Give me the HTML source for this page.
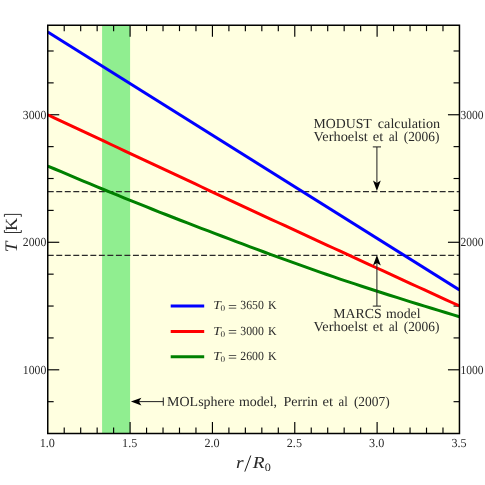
<!DOCTYPE html><html><head><meta charset="utf-8"><style>html,body{margin:0;padding:0;background:#fff}svg{display:block;will-change:transform}text{font-family:"Liberation Serif",serif;fill:#2a2a2a;text-rendering:geometricPrecision}</style></head><body>
<svg width="485" height="485" viewBox="0 0 485 485">
<rect width="485" height="485" fill="#fff"/>
<rect x="47.75" y="25.25" width="411.7" height="408.25" fill="#ffffe0"/>
<rect x="102.09" y="25.25" width="28.00" height="408.25" fill="#90ee90"/>
<line x1="47.75" x2="459.45" y1="191.5" y2="191.5" stroke="#2a2a2a" stroke-width="1.25" stroke-dasharray="5.95 2.57"/>
<line x1="47.75" x2="459.45" y1="255.45" y2="255.45" stroke="#2a2a2a" stroke-width="1.25" stroke-dasharray="5.95 2.57"/>
<g stroke="#000" stroke-width="1.15">
<line x1="64.22" x2="64.22" y1="433.5" y2="427.6"/>
<line x1="64.22" x2="64.22" y1="25.25" y2="31.15"/>
<line x1="80.69" x2="80.69" y1="433.5" y2="427.6"/>
<line x1="80.69" x2="80.69" y1="25.25" y2="31.15"/>
<line x1="97.15" x2="97.15" y1="433.5" y2="427.6"/>
<line x1="97.15" x2="97.15" y1="25.25" y2="31.15"/>
<line x1="113.62" x2="113.62" y1="433.5" y2="427.6"/>
<line x1="113.62" x2="113.62" y1="25.25" y2="31.15"/>
<line x1="130.09" x2="130.09" y1="433.5" y2="422.0"/>
<line x1="130.09" x2="130.09" y1="25.25" y2="36.75"/>
<line x1="146.56" x2="146.56" y1="433.5" y2="427.6"/>
<line x1="146.56" x2="146.56" y1="25.25" y2="31.15"/>
<line x1="163.03" x2="163.03" y1="433.5" y2="427.6"/>
<line x1="163.03" x2="163.03" y1="25.25" y2="31.15"/>
<line x1="179.49" x2="179.49" y1="433.5" y2="427.6"/>
<line x1="179.49" x2="179.49" y1="25.25" y2="31.15"/>
<line x1="195.96" x2="195.96" y1="433.5" y2="427.6"/>
<line x1="195.96" x2="195.96" y1="25.25" y2="31.15"/>
<line x1="212.43" x2="212.43" y1="433.5" y2="422.0"/>
<line x1="212.43" x2="212.43" y1="25.25" y2="36.75"/>
<line x1="228.90" x2="228.90" y1="433.5" y2="427.6"/>
<line x1="228.90" x2="228.90" y1="25.25" y2="31.15"/>
<line x1="245.37" x2="245.37" y1="433.5" y2="427.6"/>
<line x1="245.37" x2="245.37" y1="25.25" y2="31.15"/>
<line x1="261.83" x2="261.83" y1="433.5" y2="427.6"/>
<line x1="261.83" x2="261.83" y1="25.25" y2="31.15"/>
<line x1="278.30" x2="278.30" y1="433.5" y2="427.6"/>
<line x1="278.30" x2="278.30" y1="25.25" y2="31.15"/>
<line x1="294.77" x2="294.77" y1="433.5" y2="422.0"/>
<line x1="294.77" x2="294.77" y1="25.25" y2="36.75"/>
<line x1="311.24" x2="311.24" y1="433.5" y2="427.6"/>
<line x1="311.24" x2="311.24" y1="25.25" y2="31.15"/>
<line x1="327.71" x2="327.71" y1="433.5" y2="427.6"/>
<line x1="327.71" x2="327.71" y1="25.25" y2="31.15"/>
<line x1="344.17" x2="344.17" y1="433.5" y2="427.6"/>
<line x1="344.17" x2="344.17" y1="25.25" y2="31.15"/>
<line x1="360.64" x2="360.64" y1="433.5" y2="427.6"/>
<line x1="360.64" x2="360.64" y1="25.25" y2="31.15"/>
<line x1="377.11" x2="377.11" y1="433.5" y2="422.0"/>
<line x1="377.11" x2="377.11" y1="25.25" y2="36.75"/>
<line x1="393.58" x2="393.58" y1="433.5" y2="427.6"/>
<line x1="393.58" x2="393.58" y1="25.25" y2="31.15"/>
<line x1="410.05" x2="410.05" y1="433.5" y2="427.6"/>
<line x1="410.05" x2="410.05" y1="25.25" y2="31.15"/>
<line x1="426.51" x2="426.51" y1="433.5" y2="427.6"/>
<line x1="426.51" x2="426.51" y1="25.25" y2="31.15"/>
<line x1="442.98" x2="442.98" y1="433.5" y2="427.6"/>
<line x1="442.98" x2="442.98" y1="25.25" y2="31.15"/>
<line x1="47.75" x2="53.65" y1="401.68" y2="401.68"/>
<line x1="459.45" x2="453.55" y1="401.68" y2="401.68"/>
<line x1="47.75" x2="59.25" y1="369.80" y2="369.80"/>
<line x1="459.45" x2="447.95" y1="369.80" y2="369.80"/>
<line x1="47.75" x2="53.65" y1="337.92" y2="337.92"/>
<line x1="459.45" x2="453.55" y1="337.92" y2="337.92"/>
<line x1="47.75" x2="53.65" y1="306.04" y2="306.04"/>
<line x1="459.45" x2="453.55" y1="306.04" y2="306.04"/>
<line x1="47.75" x2="53.65" y1="274.16" y2="274.16"/>
<line x1="459.45" x2="453.55" y1="274.16" y2="274.16"/>
<line x1="47.75" x2="59.25" y1="242.28" y2="242.28"/>
<line x1="459.45" x2="447.95" y1="242.28" y2="242.28"/>
<line x1="47.75" x2="53.65" y1="210.39" y2="210.39"/>
<line x1="459.45" x2="453.55" y1="210.39" y2="210.39"/>
<line x1="47.75" x2="53.65" y1="178.51" y2="178.51"/>
<line x1="459.45" x2="453.55" y1="178.51" y2="178.51"/>
<line x1="47.75" x2="53.65" y1="146.63" y2="146.63"/>
<line x1="459.45" x2="453.55" y1="146.63" y2="146.63"/>
<line x1="47.75" x2="59.25" y1="114.75" y2="114.75"/>
<line x1="459.45" x2="447.95" y1="114.75" y2="114.75"/>
<line x1="47.75" x2="53.65" y1="82.87" y2="82.87"/>
<line x1="459.45" x2="453.55" y1="82.87" y2="82.87"/>
<line x1="47.75" x2="53.65" y1="50.99" y2="50.99"/>
<line x1="459.45" x2="453.55" y1="50.99" y2="50.99"/>
</g>
<clipPath id="c"><rect x="47.75" y="25.25" width="411.7" height="408.25"/></clipPath><g clip-path="url(#c)" fill="none" stroke-width="3.0" stroke-linecap="butt">
<path d="M47.75,31.9 L459.45,290.0" stroke="#0000ff"/>
<path d="M47.75,114.76 L54.73,118.04 L61.71,121.32 L68.68,124.59 L75.66,127.87 L82.64,131.15 L89.62,134.42 L96.60,137.70 L103.57,140.97 L110.55,144.24 L117.53,147.51 L124.51,150.77 L131.49,154.04 L138.46,157.30 L145.44,160.57 L152.42,163.84 L159.40,167.11 L166.38,170.39 L173.35,173.66 L180.33,176.94 L187.31,180.21 L194.29,183.48 L201.27,186.75 L208.24,190.02 L215.22,193.29 L222.20,196.56 L229.18,199.83 L236.16,203.10 L243.13,206.36 L250.11,209.63 L257.09,212.85 L264.07,216.07 L271.04,219.29 L278.02,222.51 L285.00,225.73 L291.98,228.95 L298.96,232.17 L305.93,235.38 L312.91,238.60 L319.89,241.82 L326.87,245.03 L333.85,248.24 L340.82,251.46 L347.80,254.67 L354.78,257.88 L361.76,261.09 L368.74,264.30 L375.71,267.51 L382.69,270.71 L389.67,273.92 L396.65,277.12 L403.63,280.33 L410.60,283.53 L417.58,286.74 L424.56,289.94 L431.54,293.14 L438.52,296.34 L445.49,299.54 L452.47,302.74 L459.45,305.94" stroke="#ff0000"/>
<path d="M47.75,166.01 L54.73,169.00 L61.71,171.97 L68.68,174.93 L75.66,177.87 L82.64,180.80 L89.62,183.71 L96.60,186.61 L103.57,189.50 L110.55,192.36 L117.53,195.22 L124.51,198.06 L131.49,200.88 L138.46,203.69 L145.44,206.48 L152.42,209.26 L159.40,212.03 L166.38,214.77 L173.35,217.51 L180.33,220.23 L187.31,222.93 L194.29,225.62 L201.27,228.30 L208.24,230.96 L215.22,233.62 L222.20,236.27 L229.18,238.92 L236.16,241.55 L243.13,244.18 L250.11,246.80 L257.09,249.40 L264.07,251.98 L271.04,254.56 L278.02,257.12 L285.00,259.66 L291.98,262.19 L298.96,264.70 L305.93,267.20 L312.91,269.68 L319.89,272.12 L326.87,274.54 L333.85,276.94 L340.82,279.30 L347.80,281.63 L354.78,283.94 L361.76,286.23 L368.74,288.50 L375.71,290.75 L382.69,292.99 L389.67,295.22 L396.65,297.44 L403.63,299.64 L410.60,301.82 L417.58,303.99 L424.56,306.15 L431.54,308.29 L438.52,310.41 L445.49,312.53 L452.47,314.63 L459.45,316.73" stroke="#008000"/>
</g>
<rect x="47.75" y="25.25" width="411.7" height="408.25" fill="none" stroke="#000" stroke-width="1.5"/>
<text x="47.35" y="446.8" font-size="12.3" text-anchor="middle" textLength="15.2" lengthAdjust="spacingAndGlyphs">1.0</text>
<text x="129.69" y="446.8" font-size="12.3" text-anchor="middle" textLength="15.2" lengthAdjust="spacingAndGlyphs">1.5</text>
<text x="212.03" y="446.8" font-size="12.3" text-anchor="middle" textLength="15.2" lengthAdjust="spacingAndGlyphs">2.0</text>
<text x="294.37" y="446.8" font-size="12.3" text-anchor="middle" textLength="15.2" lengthAdjust="spacingAndGlyphs">2.5</text>
<text x="376.71" y="446.8" font-size="12.3" text-anchor="middle" textLength="15.2" lengthAdjust="spacingAndGlyphs">3.0</text>
<text x="459.05" y="446.8" font-size="12.3" text-anchor="middle" textLength="15.2" lengthAdjust="spacingAndGlyphs">3.5</text>
<text x="22.8" y="373.80" font-size="12.3" textLength="23.5" lengthAdjust="spacingAndGlyphs">1000</text>
<text x="460.6" y="373.80" font-size="12.3" textLength="23.0" lengthAdjust="spacingAndGlyphs">1000</text>
<text x="22.8" y="246.28" font-size="12.3" textLength="23.5" lengthAdjust="spacingAndGlyphs">2000</text>
<text x="460.6" y="246.28" font-size="12.3" textLength="23.0" lengthAdjust="spacingAndGlyphs">2000</text>
<text x="22.8" y="118.75" font-size="12.3" textLength="23.5" lengthAdjust="spacingAndGlyphs">3000</text>
<text x="460.6" y="118.75" font-size="12.3" textLength="23.0" lengthAdjust="spacingAndGlyphs">3000</text>
<text transform="translate(17.0,252.2) rotate(-90)" font-size="17.6" font-style="italic" textLength="10.6" lengthAdjust="spacingAndGlyphs">T</text>
<text transform="translate(17.0,230.9) rotate(-90)" font-size="17" textLength="13.1" lengthAdjust="spacingAndGlyphs">K</text>
<path d="M4.4,230.1 V232.5 H21.3 V230.1 M4.4,216.8 V214.4 H21.3 V216.8" fill="none" stroke="#1a1a1a" stroke-width="0.9"/>
<text x="236" y="468" font-size="16.8" font-style="italic" textLength="7.6" lengthAdjust="spacingAndGlyphs">r</text>
<line x1="244.8" y1="471.6" x2="250.8" y2="455.5" stroke="#1a1a1a" stroke-width="1"/>
<text x="252.8" y="468" font-size="16.8" font-style="italic" textLength="11.8" lengthAdjust="spacingAndGlyphs">R</text>
<text x="264.7" y="470.5" font-size="11.4" textLength="6.1" lengthAdjust="spacingAndGlyphs">0</text>
<line x1="170.7" x2="204.2" y1="306.1" y2="306.1" stroke="#0000ff" stroke-width="3.0"/>
<text x="213.2" y="309.4" font-size="12.4" font-style="italic" textLength="7.6" lengthAdjust="spacingAndGlyphs">T</text>
<text x="220.6" y="311.3" font-size="8.8" textLength="4.6" lengthAdjust="spacingAndGlyphs">0</text>
<text x="228.0" y="310.7" font-size="12.4" textLength="9.0" lengthAdjust="spacingAndGlyphs">=</text>
<text x="240.3" y="309.4" font-size="12.4" textLength="23.6" lengthAdjust="spacingAndGlyphs">3650</text>
<text x="268.0" y="309.4" font-size="12.4" textLength="8.6" lengthAdjust="spacingAndGlyphs">K</text>
<line x1="170.7" x2="204.2" y1="331.4" y2="331.4" stroke="#ff0000" stroke-width="3.0"/>
<text x="213.2" y="334.7" font-size="12.4" font-style="italic" textLength="7.6" lengthAdjust="spacingAndGlyphs">T</text>
<text x="220.6" y="336.6" font-size="8.8" textLength="4.6" lengthAdjust="spacingAndGlyphs">0</text>
<text x="228.0" y="336.0" font-size="12.4" textLength="9.0" lengthAdjust="spacingAndGlyphs">=</text>
<text x="240.3" y="334.7" font-size="12.4" textLength="23.6" lengthAdjust="spacingAndGlyphs">3000</text>
<text x="268.0" y="334.7" font-size="12.4" textLength="8.6" lengthAdjust="spacingAndGlyphs">K</text>
<line x1="170.7" x2="204.2" y1="356.8" y2="356.8" stroke="#008000" stroke-width="3.0"/>
<text x="213.2" y="360.1" font-size="12.4" font-style="italic" textLength="7.6" lengthAdjust="spacingAndGlyphs">T</text>
<text x="220.6" y="362.0" font-size="8.8" textLength="4.6" lengthAdjust="spacingAndGlyphs">0</text>
<text x="228.0" y="361.4" font-size="12.4" textLength="9.0" lengthAdjust="spacingAndGlyphs">=</text>
<text x="240.3" y="360.1" font-size="12.4" textLength="23.6" lengthAdjust="spacingAndGlyphs">2600</text>
<text x="268.0" y="360.1" font-size="12.4" textLength="8.6" lengthAdjust="spacingAndGlyphs">K</text>
<text x="313.50" y="127.7" font-size="13.8" textLength="58.30" lengthAdjust="spacingAndGlyphs">MODUST</text>
<text x="377.80" y="127.7" font-size="13.8" textLength="62.30" lengthAdjust="spacingAndGlyphs">calculation</text>
<text x="313.50" y="140.5" font-size="13.8" textLength="54.30" lengthAdjust="spacingAndGlyphs">Verhoelst</text>
<text x="372.80" y="140.5" font-size="13.8" textLength="10.50" lengthAdjust="spacingAndGlyphs">et</text>
<text x="388.70" y="140.5" font-size="13.8" textLength="9.60" lengthAdjust="spacingAndGlyphs">al</text>
<text x="403.70" y="140.5" font-size="13.8" textLength="35.70" lengthAdjust="spacingAndGlyphs">(2006)</text>
<text x="313.50" y="331.3" font-size="13.8" textLength="54.30" lengthAdjust="spacingAndGlyphs">Verhoelst</text>
<text x="372.80" y="331.3" font-size="13.8" textLength="10.50" lengthAdjust="spacingAndGlyphs">et</text>
<text x="388.70" y="331.3" font-size="13.8" textLength="9.60" lengthAdjust="spacingAndGlyphs">al</text>
<text x="403.70" y="331.3" font-size="13.8" textLength="35.70" lengthAdjust="spacingAndGlyphs">(2006)</text>
<text x="333.20" y="318.4" font-size="13.8" textLength="48.40" lengthAdjust="spacingAndGlyphs">MARCS</text>
<text x="386.10" y="318.4" font-size="13.8" textLength="34.50" lengthAdjust="spacingAndGlyphs">model</text>
<text x="167.10" y="406" font-size="13.8" textLength="67.50" lengthAdjust="spacingAndGlyphs">MOLsphere</text>
<text x="238.90" y="406" font-size="13.8" textLength="38.20" lengthAdjust="spacingAndGlyphs">model,</text>
<text x="283.40" y="406" font-size="13.8" textLength="34.50" lengthAdjust="spacingAndGlyphs">Perrin</text>
<text x="322.60" y="406" font-size="13.8" textLength="10.60" lengthAdjust="spacingAndGlyphs">et</text>
<text x="338.60" y="406" font-size="13.8" textLength="9.20" lengthAdjust="spacingAndGlyphs">al</text>
<text x="353.90" y="406" font-size="13.8" textLength="35.80" lengthAdjust="spacingAndGlyphs">(2007)</text>
<g stroke="#262626" stroke-width="1.05" fill="#000">
<line x1="376.9" x2="376.9" y1="146.9" y2="183"/><line x1="372.79999999999995" x2="381.0" y1="146.9" y2="146.9"/>
<polygon points="376.9,191.0 373.0,180.5 376.9,183.0 380.79999999999995,180.5" stroke="none"/>
<line x1="376.9" x2="376.9" y1="306.1" y2="263"/><line x1="372.79999999999995" x2="381.0" y1="306.1" y2="306.1"/>
<polygon points="376.9,255.0 373.0,265.5 376.9,263.0 380.79999999999995,265.5" stroke="none"/>
<line x1="163.3" x2="139" y1="401.6" y2="401.6"/><line x1="163.3" x2="163.3" y1="397.5" y2="405.70000000000005"/>
<polygon points="130.9,401.6 141.4,397.70000000000005 138.9,401.6 141.4,405.5" stroke="none"/>
</g>
</svg></body></html>
